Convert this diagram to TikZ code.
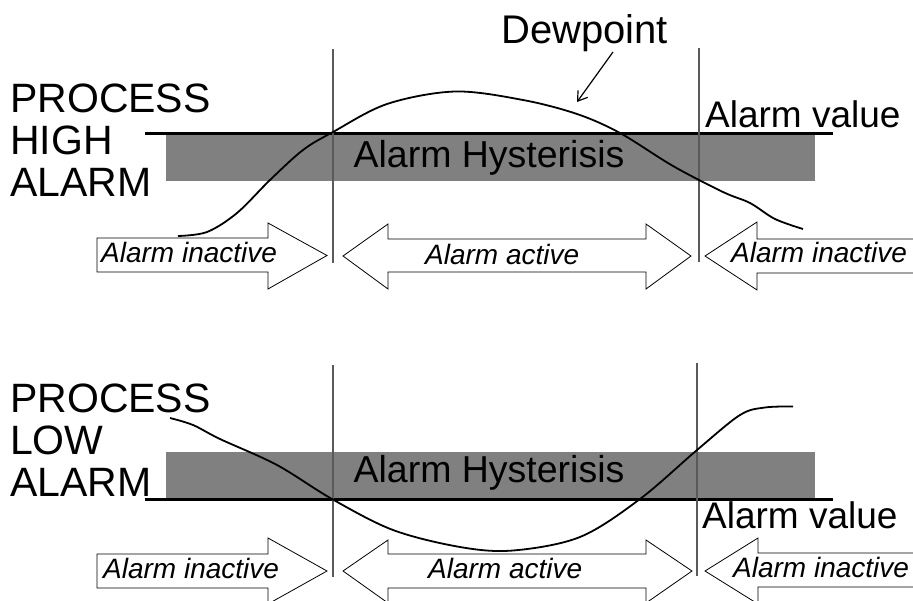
\documentclass[tikz,border=0pt]{standalone}
\usepackage{fontspec}
\setmainfont{Liberation Sans}
\usetikzlibrary{arrows.meta}
\definecolor{hystgray}{RGB}{128,128,128}
\definecolor{vgray}{RGB}{90,90,90}
\tikzset{
  hyst/.style={fill=hystgray, draw=none},
  alarmline/.style={line width=3pt, black},
  divider/.style={line width=1.2pt, vgray},
  dewcurve/.style={line width=1.8pt, black, smooth, tension=0.55},
  blockarrow/.style={draw=black, fill=white, line width=0.8pt, line join=miter},
  biglabel/.style={inner sep=0pt, anchor=base west, font=\fontsize{41}{41}\selectfont},
  hystlabel/.style={inner sep=0pt, anchor=base, font=\fontsize{37.5}{37.5}\selectfont},
  vallabel/.style={inner sep=0pt, anchor=base west, font=\fontsize{37}{37}\selectfont},
  arrowlabel/.style={inner sep=0pt, anchor=base west, font=\fontsize{28}{28}\selectfont\itshape},
}
\begin{document}
\begin{tikzpicture}[x=1pt,y=-1pt]
\useasboundingbox (0,0) rectangle (913,600);
\clip (0,0) rectangle (913,600);
\fill[white] (0,0) rectangle (913,600);

% ================= TOP PANEL =================
\fill[hyst] (166,134) rectangle (815,181);
\node[hystlabel] (hystA) at (489,167) {Alarm Hysterisis};
\draw[alarmline] (145,133) -- (833,133);

\coordinate (vA1t) at (333,49);  \coordinate (vA1b) at (333,263);
\coordinate (vA2t) at (699,48);  \coordinate (vA2b) at (699,262);
\draw[divider] (vA1t) -- (vA1b);
\draw[divider] (vA2t) -- (vA2b);

\draw[dewcurve] plot coordinates {(178,236) (207,232) (237,213) (270,180) (303,150) (333,132) (387,104) (455,91.5) (523,100) (577,114) (620,133) (673,166) (723,192) (750,203) (775,219) (803,229)};

\node[biglabel] (procA) at (10,112) {PROCESS};
\node[biglabel] (highA) at (10,154) {HIGH};
\node[biglabel] (alarmA) at (10,196) {ALARM};
\node[vallabel] (valA) at (705,127) {Alarm value};

\node[biglabel, font=\fontsize{40}{40}\selectfont] (dew) at (501,43) {Dewpoint};
\coordinate (dewtip) at (577,102);
\draw[line width=1.2pt, -{Straight Barb[length=9pt,width=12pt]}] (613,52) -- (dewtip);

% block arrows top
\draw[blockarrow] (97,238) -- (268,238) -- (268,223) -- (327,255.5) -- (268,289) -- (268,272) -- (97,272) -- cycle;
\draw[blockarrow] (343,256) -- (388,224) -- (388,239) -- (646,239) -- (646,224) -- (691,256) -- (646,289) -- (646,272) -- (388,272) -- (388,289) -- cycle;
\draw[blockarrow] (930,239) -- (757,239) -- (757,222) -- (705,256) -- (757,290) -- (757,273) -- (930,273);
\node[arrowlabel] (inA1) at (101,262) {Alarm inactive};
\node[arrowlabel] (actA) at (425,264) {Alarm active};
\node[arrowlabel] (inA2) at (731,262) {Alarm inactive};

% ================= BOTTOM PANEL =================
\fill[hyst] (166,452) rectangle (815,498);
\node[hystlabel] (hystB) at (489,482) {Alarm Hysterisis};
\draw[alarmline] (145,499) -- (833,499);

\coordinate (vB1t) at (333,365);  \coordinate (vB1b) at (333,577);
\coordinate (vB2t) at (697,363);  \coordinate (vB2b) at (697,576);
\draw[divider] (vB1t) -- (vB1b);
\draw[divider] (vB2t) -- (vB2b);

\draw[dewcurve] plot coordinates {(170,418) (193,425) (220,439) (277,465) (332,499) (393,530) (460,547) (513,550.5) (580,537) (640,499) (697,450) (740,415) (765,407.5) (793,406.5)};

\node[biglabel] (procB) at (10,412) {PROCESS};
\node[biglabel] (lowB) at (10,454) {LOW};
\node[biglabel] (alarmB) at (10,496) {ALARM};
\node[vallabel] (valB) at (702,528) {Alarm value};

% block arrows bottom
\draw[blockarrow] (97,554) -- (268,554) -- (268,538) -- (327,571) -- (268,604) -- (268,588) -- (97,588) -- cycle;
\draw[blockarrow] (343,571) -- (388,540) -- (388,554) -- (646,554) -- (646,540) -- (692,571) -- (646,603) -- (646,588) -- (388,588) -- (388,603) -- cycle;
\draw[blockarrow] (930,553) -- (758,553) -- (758,538) -- (705,571) -- (758,604) -- (758,587) -- (930,587);
\node[arrowlabel] (inB1) at (103,578) {Alarm inactive};
\node[arrowlabel] (actB) at (428,578) {Alarm active};
\node[arrowlabel] (inB2) at (733,577) {Alarm inactive};
\end{tikzpicture}
\end{document}
